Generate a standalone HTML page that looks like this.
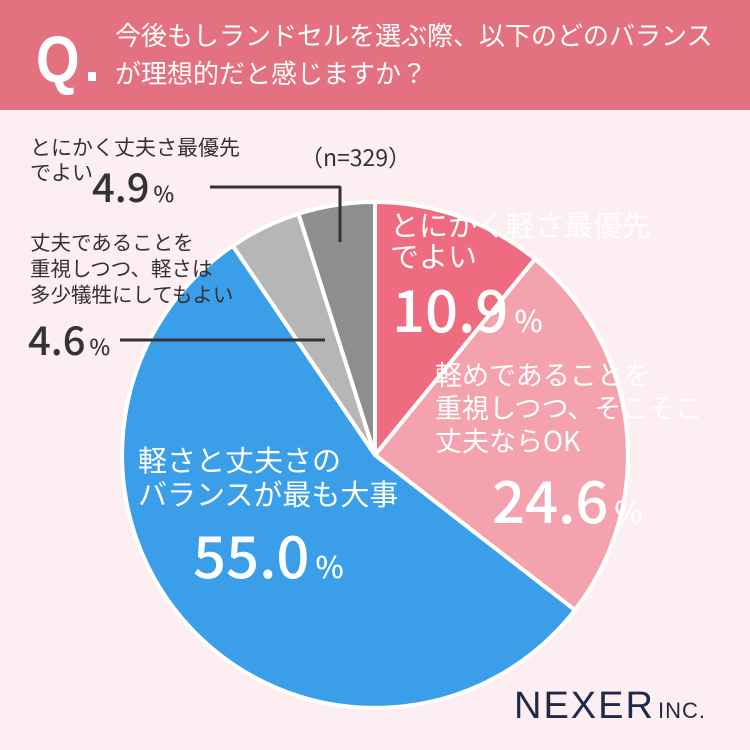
<!DOCTYPE html>
<html><head><meta charset="utf-8"><style>
body{margin:0;width:750px;height:750px;overflow:hidden;background:#fdeef1;font-family:"Liberation Sans","Noto Sans CJK JP",sans-serif}
</style></head><body>
<svg width="750" height="750" xmlns="http://www.w3.org/2000/svg" style="position:absolute;left:0;top:0">
<rect width="750" height="750" fill="#fdeef1"/>
<rect width="750" height="110" fill="#e4717f"/>
<text x="36" y="82" font-family="Liberation Sans,sans-serif" font-weight="bold" font-size="66" fill="#fff" transform="translate(36,0) scale(0.85,1) translate(-36,0)">Q</text>
<rect x="88" y="72" width="8" height="9" fill="#fff"/>
<g font-family="Noto Sans CJK JP,sans-serif" font-size="26" fill="#fff">
<text x="115" y="45">今後もしランドセルを選ぶ際、以下のどのバランス</text>
<text x="115" y="83">が理想的だと感じますか？</text>
</g>
<g stroke="#fff" stroke-width="4" stroke-linejoin="round">
<path d="M375,455 L375,202 A253,253 0 0 1 535,259.1 Z" fill="#ef6b7f"/>
<path d="M375,455 L535,259.1 A253,253 0 0 1 574.9,610.1 Z" fill="#f4a3ae"/>
<path d="M375,455 L574.9,610.1 A253,253 0 1 1 232.8,245.7 Z" fill="#3a9fe8"/>
<path d="M375,455 L232.8,245.7 A253,253 0 0 1 298.5,213.8 Z" fill="#b6b6b6"/>
<path d="M375,455 L298.5,213.8 A253,253 0 0 1 375,202 Z" fill="#8e8e8e"/>
</g>
<g stroke="#333" stroke-width="3">
<line x1="210" y1="187" x2="340" y2="187"/><line x1="340" y1="186" x2="340" y2="242"/>
<line x1="120" y1="340" x2="325" y2="340"/>
</g>
<g font-family="Noto Sans CJK JP,sans-serif" fill="#333">
<text x="300" y="166" font-size="23">（n=329）</text>
<text x="30" y="155" font-size="21">とにかく丈夫さ最優先</text>
<text x="30" y="180" font-size="21">でよい</text>
<text x="92" y="202" font-size="40" font-weight="500">4.9<tspan font-size="22" dx="4">%</tspan></text>
<text x="30" y="250" font-size="20.5">丈夫であることを</text>
<text x="30" y="276" font-size="20.5">重視しつつ、軽さは</text>
<text x="30" y="302" font-size="20.5">多少犠牲にしてもよい</text>
<text x="28" y="355" font-size="40" font-weight="500">4.6<tspan font-size="22" dx="4">%</tspan></text>
</g>
<g font-family="Noto Sans CJK JP,sans-serif" fill="#fff">
<text x="390" y="236" font-size="29">とにかく軽さ最優先</text>
<text x="390" y="267" font-size="29">でよい</text>
<text x="392" y="332" font-size="58" font-weight="500">10.9<tspan font-size="30" dx="6">%</tspan></text>
<text x="435" y="385" font-size="27">軽めであることを</text>
<text x="435" y="418" font-size="27">重視しつつ、そこそこ</text>
<text x="435" y="451" font-size="27">丈夫ならOK</text>
<text x="492" y="523" font-size="58" font-weight="500">24.6<tspan font-size="30" dx="6">%</tspan></text>
<text x="138" y="471" font-size="29">軽さと丈夫さの</text>
<text x="138" y="505" font-size="29">バランスが最も大事</text>
<text x="193" y="578" font-size="58" font-weight="500">55.0<tspan font-size="30" dx="6">%</tspan></text>
</g>
<text x="514" y="718" font-family="Liberation Sans,sans-serif" font-size="38" fill="#1f2a4a" letter-spacing="2">NEXER</text>
<text x="658" y="718" font-family="Liberation Sans,sans-serif" font-size="22" fill="#1f2a4a" letter-spacing="1">INC.</text>
</svg>
</body></html>
